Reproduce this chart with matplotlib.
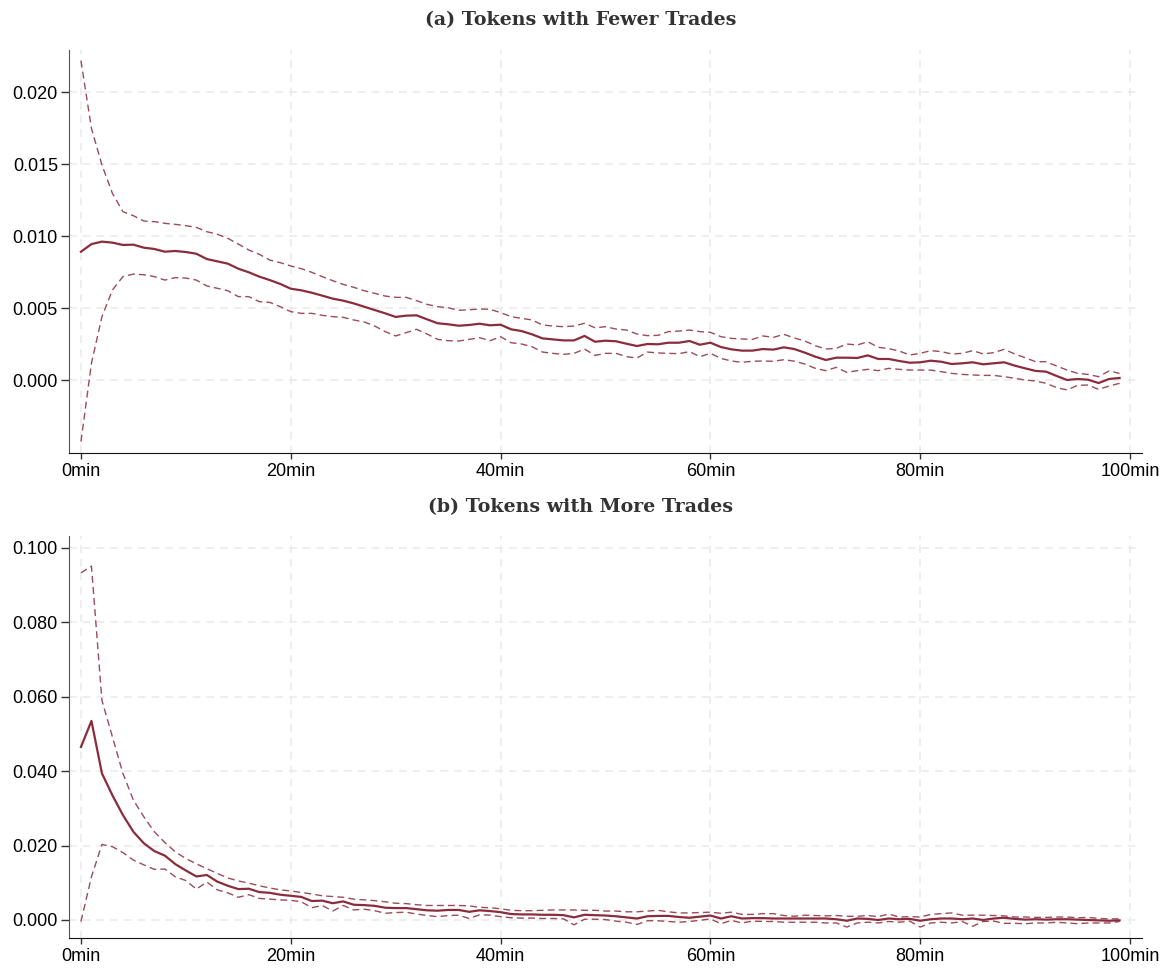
import matplotlib
matplotlib.use("Agg")
import matplotlib.pyplot as plt
import numpy as np

minutes = list(range(100))

est_a = [0.00891, 0.00944, 0.00961, 0.00954, 0.00938, 0.00940, 0.00919, 0.00910, 0.00891, 0.00896,
         0.00889, 0.00877, 0.00840, 0.00824, 0.00808, 0.00773, 0.00748, 0.00718, 0.00694, 0.00667,
         0.00634, 0.00623, 0.00606, 0.00586, 0.00565, 0.00551, 0.00532, 0.00509, 0.00486, 0.00463,
         0.00438, 0.00447, 0.00449, 0.00421, 0.00394, 0.00387, 0.00377, 0.00382, 0.00391, 0.00380,
         0.00384, 0.00352, 0.00340, 0.00317, 0.00289, 0.00282, 0.00275, 0.00275, 0.00306, 0.00266,
         0.00273, 0.00269, 0.00252, 0.00236, 0.00250, 0.00248, 0.00259, 0.00259, 0.00271, 0.00245,
         0.00259, 0.00229, 0.00213, 0.00204, 0.00204, 0.00215, 0.00211, 0.00227, 0.00215, 0.00190,
         0.00162, 0.00139, 0.00155, 0.00155, 0.00153, 0.00171, 0.00146, 0.00146, 0.00132, 0.00120,
         0.00123, 0.00134, 0.00127, 0.00111, 0.00116, 0.00123, 0.00109, 0.00116, 0.00123, 0.00100,
         0.00081, 0.00063, 0.00058, 0.00028, 0.00000, 0.00007, 0.00002, -0.00021, 0.00007, 0.00014]

upper_a = [0.02218, 0.01748, 0.01493, 0.01296, 0.01169, 0.01141, 0.01104, 0.01100, 0.01088, 0.01081,
           0.01072, 0.01060, 0.01030, 0.01012, 0.00984, 0.00944, 0.00903, 0.00873, 0.00833, 0.00815,
           0.00792, 0.00773, 0.00748, 0.00718, 0.00690, 0.00664, 0.00644, 0.00620, 0.00602, 0.00583,
           0.00574, 0.00574, 0.00551, 0.00525, 0.00509, 0.00502, 0.00484, 0.00488, 0.00493, 0.00491,
           0.00468, 0.00440, 0.00428, 0.00417, 0.00382, 0.00375, 0.00370, 0.00375, 0.00394, 0.00363,
           0.00370, 0.00354, 0.00347, 0.00319, 0.00308, 0.00310, 0.00336, 0.00340, 0.00347, 0.00336,
           0.00331, 0.00301, 0.00289, 0.00285, 0.00282, 0.00306, 0.00296, 0.00317, 0.00292, 0.00271,
           0.00238, 0.00215, 0.00220, 0.00250, 0.00243, 0.00266, 0.00227, 0.00218, 0.00201, 0.00174,
           0.00185, 0.00204, 0.00197, 0.00181, 0.00185, 0.00204, 0.00181, 0.00190, 0.00213, 0.00181,
           0.00155, 0.00127, 0.00127, 0.00097, 0.00069, 0.00046, 0.00039, 0.00023, 0.00063, 0.00046]

lower_a = [-0.00428, 0.00116, 0.00440, 0.00625, 0.00718, 0.00736, 0.00731, 0.00718, 0.00694, 0.00711,
           0.00708, 0.00694, 0.00653, 0.00637, 0.00620, 0.00579, 0.00579, 0.00544, 0.00539, 0.00509,
           0.00475, 0.00463, 0.00463, 0.00449, 0.00440, 0.00435, 0.00417, 0.00403, 0.00375, 0.00336,
           0.00306, 0.00329, 0.00352, 0.00319, 0.00282, 0.00273, 0.00271, 0.00282, 0.00294, 0.00273,
           0.00301, 0.00259, 0.00250, 0.00231, 0.00194, 0.00185, 0.00178, 0.00185, 0.00215, 0.00171,
           0.00185, 0.00185, 0.00162, 0.00153, 0.00194, 0.00188, 0.00185, 0.00183, 0.00197, 0.00162,
           0.00185, 0.00150, 0.00132, 0.00123, 0.00130, 0.00132, 0.00130, 0.00141, 0.00131, 0.00111,
           0.00081, 0.00065, 0.00088, 0.00053, 0.00065, 0.00074, 0.00065, 0.00081, 0.00074, 0.00069,
           0.00069, 0.00069, 0.00058, 0.00046, 0.00039, 0.00035, 0.00032, 0.00032, 0.00023, 0.00012,
           0.00000, -0.00007, -0.00023, -0.00053, -0.00069, -0.00037, -0.00035, -0.00065, -0.00042, -0.00023]

est_b = [0.0465, 0.0535, 0.0394, 0.0335, 0.0282, 0.0237, 0.0206, 0.0185, 0.0173, 0.0150,
         0.0133, 0.0117, 0.0121, 0.0103, 0.0092, 0.0083, 0.0084, 0.0075, 0.0073, 0.0068,
         0.0065, 0.0062, 0.0051, 0.0052, 0.0045, 0.0050, 0.0041, 0.0040, 0.0038, 0.0033,
         0.0032, 0.0032, 0.0029, 0.0026, 0.0025, 0.0027, 0.0027, 0.0022, 0.0026, 0.0024,
         0.0021, 0.0016, 0.0015, 0.0015, 0.0014, 0.0014, 0.0013, 0.0007, 0.0014, 0.0013,
         0.0012, 0.0010, 0.0007, 0.0004, 0.0010, 0.0011, 0.0011, 0.0008, 0.0006, 0.0009,
         0.0012, 0.0004, 0.0010, 0.0004, 0.0005, 0.0005, 0.0004, 0.0004, 0.0004, 0.0004,
         0.0004, 0.0004, 0.0002, -0.0002, 0.0004, 0.0003, 0.0000, 0.0004, 0.0002, 0.0003,
         -0.0002, 0.0002, 0.0004, 0.0004, 0.0002, 0.0004, 0.0000, 0.0004, 0.0006, 0.0003,
         0.0001, 0.0002, 0.0001, 0.0002, 0.0002, 0.0001, 0.0000, -0.0001, -0.0002, -0.0001]

upper_b = [0.0933, 0.0951, 0.0590, 0.0492, 0.0394, 0.0322, 0.0277, 0.0237, 0.0208, 0.0183,
           0.0165, 0.0151, 0.0138, 0.0125, 0.0113, 0.0105, 0.0099, 0.0092, 0.0086, 0.0081,
           0.0078, 0.0074, 0.0070, 0.0065, 0.0063, 0.0061, 0.0056, 0.0054, 0.0052, 0.0049,
           0.0045, 0.0044, 0.0041, 0.0039, 0.0039, 0.0039, 0.0039, 0.0038, 0.0034, 0.0033,
           0.0030, 0.0026, 0.0025, 0.0025, 0.0026, 0.0027, 0.0027, 0.0027, 0.0026, 0.0026,
           0.0024, 0.0024, 0.0022, 0.0022, 0.0024, 0.0026, 0.0022, 0.0019, 0.0019, 0.0020,
           0.0021, 0.0018, 0.0021, 0.0015, 0.0015, 0.0017, 0.0017, 0.0012, 0.0010, 0.0013,
           0.0012, 0.0011, 0.0012, 0.0010, 0.0010, 0.0012, 0.0009, 0.0016, 0.0008, 0.0009,
           0.0008, 0.0015, 0.0017, 0.0019, 0.0013, 0.0013, 0.0013, 0.0012, 0.0011, 0.0008,
           0.0008, 0.0007, 0.0007, 0.0008, 0.0008, 0.0006, 0.0007, 0.0004, 0.0003, 0.0003]

lower_b = [-0.0004, 0.0116, 0.0203, 0.0197, 0.0181, 0.0161, 0.0148, 0.0136, 0.0137, 0.0116,
           0.0106, 0.0083, 0.0102, 0.0081, 0.0073, 0.0061, 0.0068, 0.0058, 0.0056, 0.0054,
           0.0053, 0.0049, 0.0033, 0.0039, 0.0024, 0.0039, 0.0027, 0.0029, 0.0025, 0.0018,
           0.0020, 0.0021, 0.0016, 0.0012, 0.0009, 0.0012, 0.0013, 0.0004, 0.0014, 0.0013,
           0.0009, 0.0006, 0.0005, 0.0005, 0.0004, 0.0004, 0.0003, -0.0013, 0.0002, 0.0002,
           0.0001, -0.0003, -0.0006, -0.0012, -0.0002, -0.0002, -0.0004, -0.0006, -0.0004, -0.0001,
           0.0003, -0.0010, -0.0001, -0.0008, -0.0003, -0.0004, -0.0004, -0.0006, -0.0006, -0.0006,
           -0.0006, -0.0008, -0.0008, -0.0019, -0.0008, -0.0006, -0.0008, -0.0004, -0.0006, -0.0003,
           -0.0019, -0.0008, -0.0006, -0.0008, -0.0004, -0.0017, -0.0004, -0.0003, -0.0009, -0.0009,
           -0.0010, -0.0008, -0.0008, -0.0006, -0.0008, -0.0010, -0.0008, -0.0008, -0.0008, -0.0004]

x_ticks = [0, 20, 40, 60, 80, 100]
x_tick_labels = ["0min", "20min", "40min", "60min", "80min", "100min"]
y_ticks_a = [0.000, 0.005, 0.010, 0.015, 0.020]
y_ticks_b = [0.000, 0.020, 0.040, 0.060, 0.080, 0.100]
titles = ["(a) Tokens with Fewer Trades", "(b) Tokens with More Trades"]

COLOR = "#8b2c3c"
W, H = 1162, 968
fig = plt.figure(figsize=(W / 100, H / 100), dpi=100)
plt.rcParams['font.family'] = ['Liberation Sans', 'DejaVu Sans']

def px_axes(left, top, right, bottom):
    return fig.add_axes([left / W, 1 - bottom / H, (right - left) / W, (bottom - top) / H])

ax_a = px_axes(69, 50, 1142, 453)
ax_b = px_axes(69, 536, 1142, 938)

panels = [
    (ax_a, est_a, upper_a, lower_a, y_ticks_a, (-0.00507, 0.02292)),
    (ax_b, est_b, upper_b, lower_b, y_ticks_b, (-0.00484, 0.1032)),
]

for ax, est, up, lo, yt, ylim in panels:
    ax.plot(minutes, up, color=COLOR, lw=1.0, ls=(0, (5, 3)), alpha=0.85)
    ax.plot(minutes, lo, color=COLOR, lw=1.0, ls=(0, (5, 3)), alpha=0.85)
    ax.plot(minutes, est, color=COLOR, lw=1.6)
    ax.set_xlim(-1.14, 101.14)
    ax.set_ylim(*ylim)
    ax.set_xticks(x_ticks)
    ax.set_xticklabels(x_tick_labels)
    ax.set_yticks(yt)
    ax.set_yticklabels([f"{v:.3f}" for v in yt])
    ax.grid(True, color="#e9e9e9", ls=(0, (5, 4)), lw=1.1)
    ax.set_axisbelow(True)
    for s in ["top", "right"]:
        ax.spines[s].set_visible(False)
    ax.spines["left"].set_color("#555555")
    ax.spines["bottom"].set_color("#111111")
    ax.tick_params(axis="y", length=6, width=1, color="#333333", pad=2, labelsize=13)
    ax.tick_params(axis="x", length=4.5, width=1, color="#333333", pad=3, labelsize=13)

for title, ypix in zip(titles, [20, 507]):
    fig.text(0.5, 1 - ypix / H, title, ha="center", va="center", fontsize=13.7,
             family=["DejaVu Serif"], fontweight="bold", color="#333333")

fig.savefig("out.png", dpi=100)
